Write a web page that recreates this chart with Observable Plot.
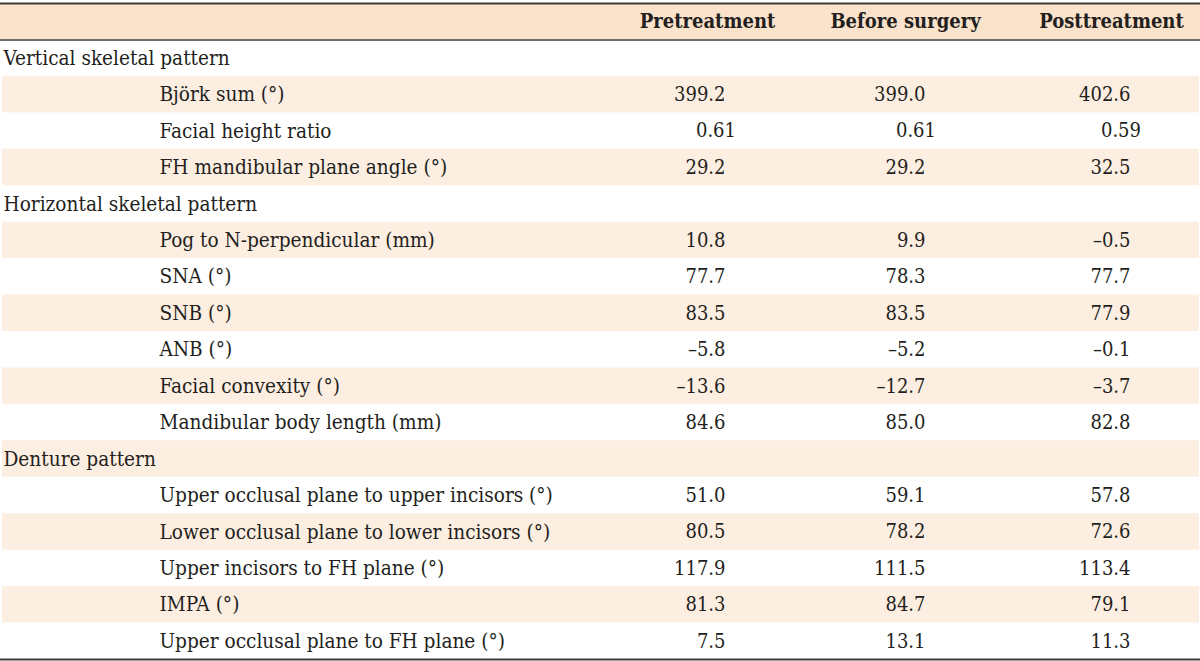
<!DOCTYPE html>
<html>
<head>
<meta charset="utf-8">
<script src="https://cdn.jsdelivr.net/npm/d3@7"></script>
<script src="https://cdn.jsdelivr.net/npm/@observablehq/plot@0.6"></script>
<style>
  html, body { margin: 0; padding: 0; background: #fff; }
  #chart svg { display: block; }
</style>
</head>
<body>
<div id="chart"></div>
<script>
// ---- data ----
const columns = ["Pretreatment", "Before surgery", "Posttreatment"];

const rowLabels = [
  "Vertical skeletal pattern",
  "Björk sum (°)",
  "Facial height ratio",
  "FH mandibular plane angle (°)",
  "Horizontal skeletal pattern",
  "Pog to N-perpendicular (mm)",
  "SNA (°)",
  "SNB (°)",
  "ANB (°)",
  "Facial convexity (°)",
  "Mandibular body length (mm)",
  "Denture pattern",
  "Upper occlusal plane to upper incisors (°)",
  "Lower occlusal plane to lower incisors (°)",
  "Upper incisors to FH plane (°)",
  "IMPA (°)",
  "Upper occlusal plane to FH plane (°)"
];

const rowKinds = [
  "section", "item", "item", "item",
  "section", "item", "item", "item", "item", "item", "item",
  "section", "item", "item", "item", "item", "item"
];

const pretreatment = ["", "399.2", "0.61", "29.2", "", "10.8", "77.7", "83.5", "–5.8", "–13.6", "84.6", "", "51.0", "80.5", "117.9", "81.3", "7.5"];
const beforeSurgery = ["", "399.0", "0.61", "29.2", "", "9.9", "78.3", "83.5", "–5.2", "–12.7", "85.0", "", "59.1", "78.2", "111.5", "84.7", "13.1"];
const posttreatment = ["", "402.6", "0.59", "32.5", "", "–0.5", "77.7", "77.9", "–0.1", "–3.7", "82.8", "", "57.8", "72.6", "113.4", "79.1", "11.3"];

// ---- layout ----
const W = 1200, H = 661;
const FONT = "DejaVu Serif Condensed";
const FS = 20;
const LABEL_FS = 20.6;
const ink = "#231f20";
const headerFill = "#fbe2ca";
const stripeFill = "#fdeee2";
const headerX = [707, 905, 1111];
const valueRight = [725, 925, 1130];
const digitW = 10.5;

const series = [pretreatment, beforeSurgery, posttreatment];
const rows = rowLabels.map((label, i) => ({row: i + 1, label, kind: rowKinds[i]}));
const stripes = rows.filter(d => d.row % 2 === 0);
const cells = rows.flatMap((d, i) =>
  series.map((s, j) => ({row: d.row, col: j, v: s[i]})).filter(c => c.v !== "")
);
const decimals = v => (v.split(".")[1] || "").length;
const header = columns.map((c, i) => ({c, i}));

const chart = Plot.plot({
  width: W,
  height: H,
  margin: 0,
  x: {domain: [0, W], range: [0, W], axis: null},
  y: {domain: [0, 18], range: [3, 659], axis: null},
  style: {fontFamily: FONT, fontSize: FS + "px", color: ink, background: "#fff"},
  marks: [
    Plot.rect([{row: 0}], {x1: () => 0, x2: () => W, y1: d => d.row, y2: d => d.row + 1, fill: headerFill}),
    Plot.rect(stripes, {x1: () => 2, x2: () => W - 1, y1: d => d.row, y2: d => d.row + 1, fill: stripeFill}),
    Plot.text(header, {
      x: d => headerX[d.i], y: () => 0.5, text: "c",
      fontWeight: "bold", fontSize: FS, fill: ink, fontFamily: FONT
    }),
    Plot.text(rows, {
      x: d => d.kind === "section" ? 3 : 159, y: d => d.row + 0.5, text: "label",
      textAnchor: "start", fontSize: LABEL_FS, fill: ink, fontFamily: FONT
    }),
    Plot.text(cells, {
      x: d => valueRight[d.col] + (decimals(d.v) - 1) * digitW, y: d => d.row + 0.5, text: "v",
      textAnchor: "end", fontSize: FS, fill: ink, fontFamily: FONT
    }),
    Plot.ruleY([0, 18], {stroke: "#3c3c3c", strokeWidth: 2}),
    Plot.ruleY([1], {stroke: "#3c3c3c", strokeWidth: 1.5})
  ]
});

document.getElementById("chart").appendChild(chart);
</script>
</body>
</html>
